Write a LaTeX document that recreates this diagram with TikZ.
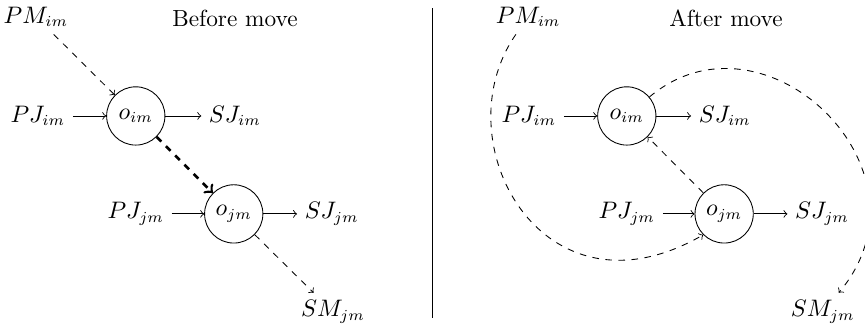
\documentclass[tikz,border=0pt]{standalone}
\usetikzlibrary{positioning, calc}

\begin{document}
\begin{tikzpicture}[
  every node/.append style = {font=\fontsize{10.7}{13}\selectfont},
  op/.style      = {circle, draw, minimum size=0.94cm, inner sep=0pt},
  arr/.style     = {->},
  mv/.style      = {->, dashed},
  bigmv/.style   = {->, very thick, dashed},
]
\useasboundingbox (0,0) rectangle (13.952,-5.306);

% ---- before move (left) -----------------------------------------------------
\node (tl) at (3.79,-0.29) {Before move};
\node (PMl) at (0.58,-0.27) {$PM_{im}$};
\node (PJil) at (0.61,-1.87) {$PJ_{im}$};
\node[op] (oiml) at (2.19,-1.87) {$o_{im}$};
\node (SJil) at (3.79,-1.87) {$SJ_{im}$};
\node (PJjl) at (2.19,-3.45) {$PJ_{jm}$};
\node[op] (ojml) at (3.77,-3.45) {$o_{jm}$};
\node (SJjl) at (5.35,-3.45) {$SJ_{jm}$};
\node (SMl) at (5.37,-5.03) {$SM_{jm}$};

\draw[arr] (PJil) -- (oiml);
\draw[arr] (oiml) -- (SJil);
\draw[arr] (PJjl) -- (ojml);
\draw[arr] (ojml) -- (SJjl);
\draw[mv] (PMl) -- (oiml);
\draw[mv] (ojml) -- (SMl);
% the move itself
\draw[bigmv] (oiml) -- (ojml);

% ---- separator --------------------------------------------------------------
\draw (6.97,-0.13) -- (6.97,-5.13);

% ---- after move (right) -----------------------------------------------------
\node (tr) at (11.71,-0.29) {After move};
\node (PMr) at (8.52,-0.27) {$PM_{im}$};
\node (PJir) at (8.53,-1.87) {$PJ_{im}$};
\node[op] (oimr) at (10.11,-1.87) {$o_{im}$};
\node (SJir) at (11.69,-1.87) {$SJ_{im}$};
\node (PJjr) at (10.11,-3.45) {$PJ_{jm}$};
\node[op] (ojmr) at (11.68,-3.45) {$o_{jm}$};
\node (SJjr) at (13.26,-3.45) {$SJ_{jm}$};
\node (SMr) at (13.27,-5.03) {$SM_{jm}$};

\draw[arr] (PJir) -- (oimr);
\draw[arr] (oimr) -- (SJir);
\draw[arr] (PJjr) -- (ojmr);
\draw[arr] (ojmr) -- (SJjr);
\draw[mv] (ojmr) -- (oimr);
\draw[mv] (PMr) to[out=235, in=210, out distance=2.1cm, in distance=3cm]
  (ojmr.south west);
\draw[mv] (oimr) to[out=40, in=50, out distance=2.42cm, in distance=2.58cm]
  (SMr);

\end{tikzpicture}
\end{document}
